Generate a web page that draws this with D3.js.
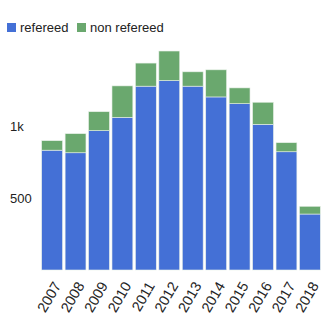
<!DOCTYPE html>
<html>
<head>
<meta charset="utf-8">
<script src="https://cdn.jsdelivr.net/npm/d3@7"></script>
<style>
  body { margin: 0; background: #fff; }
  text { font-family: "Liberation Sans", Arial, sans-serif; }
</style>
</head>
<body>
<svg id="chart" width="327" height="325"></svg>
<script>
var years = ["2007", "2008", "2009", "2010", "2011", "2012", "2013", "2014", "2015", "2016", "2017", "2018"];
var refereed = [835, 817, 971, 1064, 1281, 1320, 1281, 1206, 1159, 1015, 824, 390];
var nonRefereed = [66, 133, 132, 219, 161, 206, 100, 189, 110, 154, 63, 54];
var seriesNames = ["refereed", "non refereed"];
var yTicks = [500, 1000];
var colors = ["#4470d6", "#6aa86e"];

var svg = d3.select("#chart");

var rows = years.map(function (yr, i) {
    return { year: yr, "refereed": refereed[i], "non refereed": nonRefereed[i] };
});

var x = d3.scaleBand()
    .domain(years)
    .range([40.5, 321.5])
    .paddingInner(0.11)
    .paddingOuter(0.05);

var y = d3.scaleLinear()
    .domain([0, 1000])
    .range([270, 126.5]);

var stack = d3.stack().keys(seriesNames)(rows);

svg.append("g")
    .selectAll("g")
    .data(stack)
    .enter().append("g")
    .attr("fill", function (d, i) { return colors[i]; })
    .selectAll("rect")
    .data(function (d) { return d; })
    .enter().append("rect")
    .attr("x", function (d) { return x(d.data.year); })
    .attr("y", function (d) { return y(d[1]); })
    .attr("width", x.bandwidth())
    .attr("height", function (d) { return y(d[0]) - y(d[1]); })
    .attr("stroke", "#e8f0e8")
    .attr("stroke-width", 0.6);

// y labels, no axis line
svg.append("g")
    .selectAll("text")
    .data(yTicks)
    .enter().append("text")
    .attr("x", 10)
    .attr("y", function (d) { return y(d); })
    .attr("dy", "0.35em")
    .attr("font-size", 13)
    .attr("fill", "#222")
    .text(d3.format("~s"));

// x labels rotated
svg.append("g")
    .selectAll("text")
    .data(years)
    .enter().append("text")
    .attr("transform", function (d) { return "translate(" + (x(d) + x.bandwidth() / 2 + 5) + ",283)rotate(-60)"; })
    .attr("text-anchor", "end")
    .attr("dy", "0.35em")
    .attr("font-size", 14.5)
    .attr("fill", "#222")
    .text(function (d) { return d; });

// legend
var legend = svg.append("g");
var lx = [7, 77];
seriesNames.forEach(function (name, i) {
    legend.append("rect")
        .attr("x", lx[i])
        .attr("y", 23)
        .attr("width", 9)
        .attr("height", 9)
        .attr("fill", colors[i]);
    legend.append("text")
        .attr("x", lx[i] + 13)
        .attr("y", 32)
        .attr("font-size", 13)
        .attr("fill", "#222")
        .text(name);
});
</script>
</body>
</html>
